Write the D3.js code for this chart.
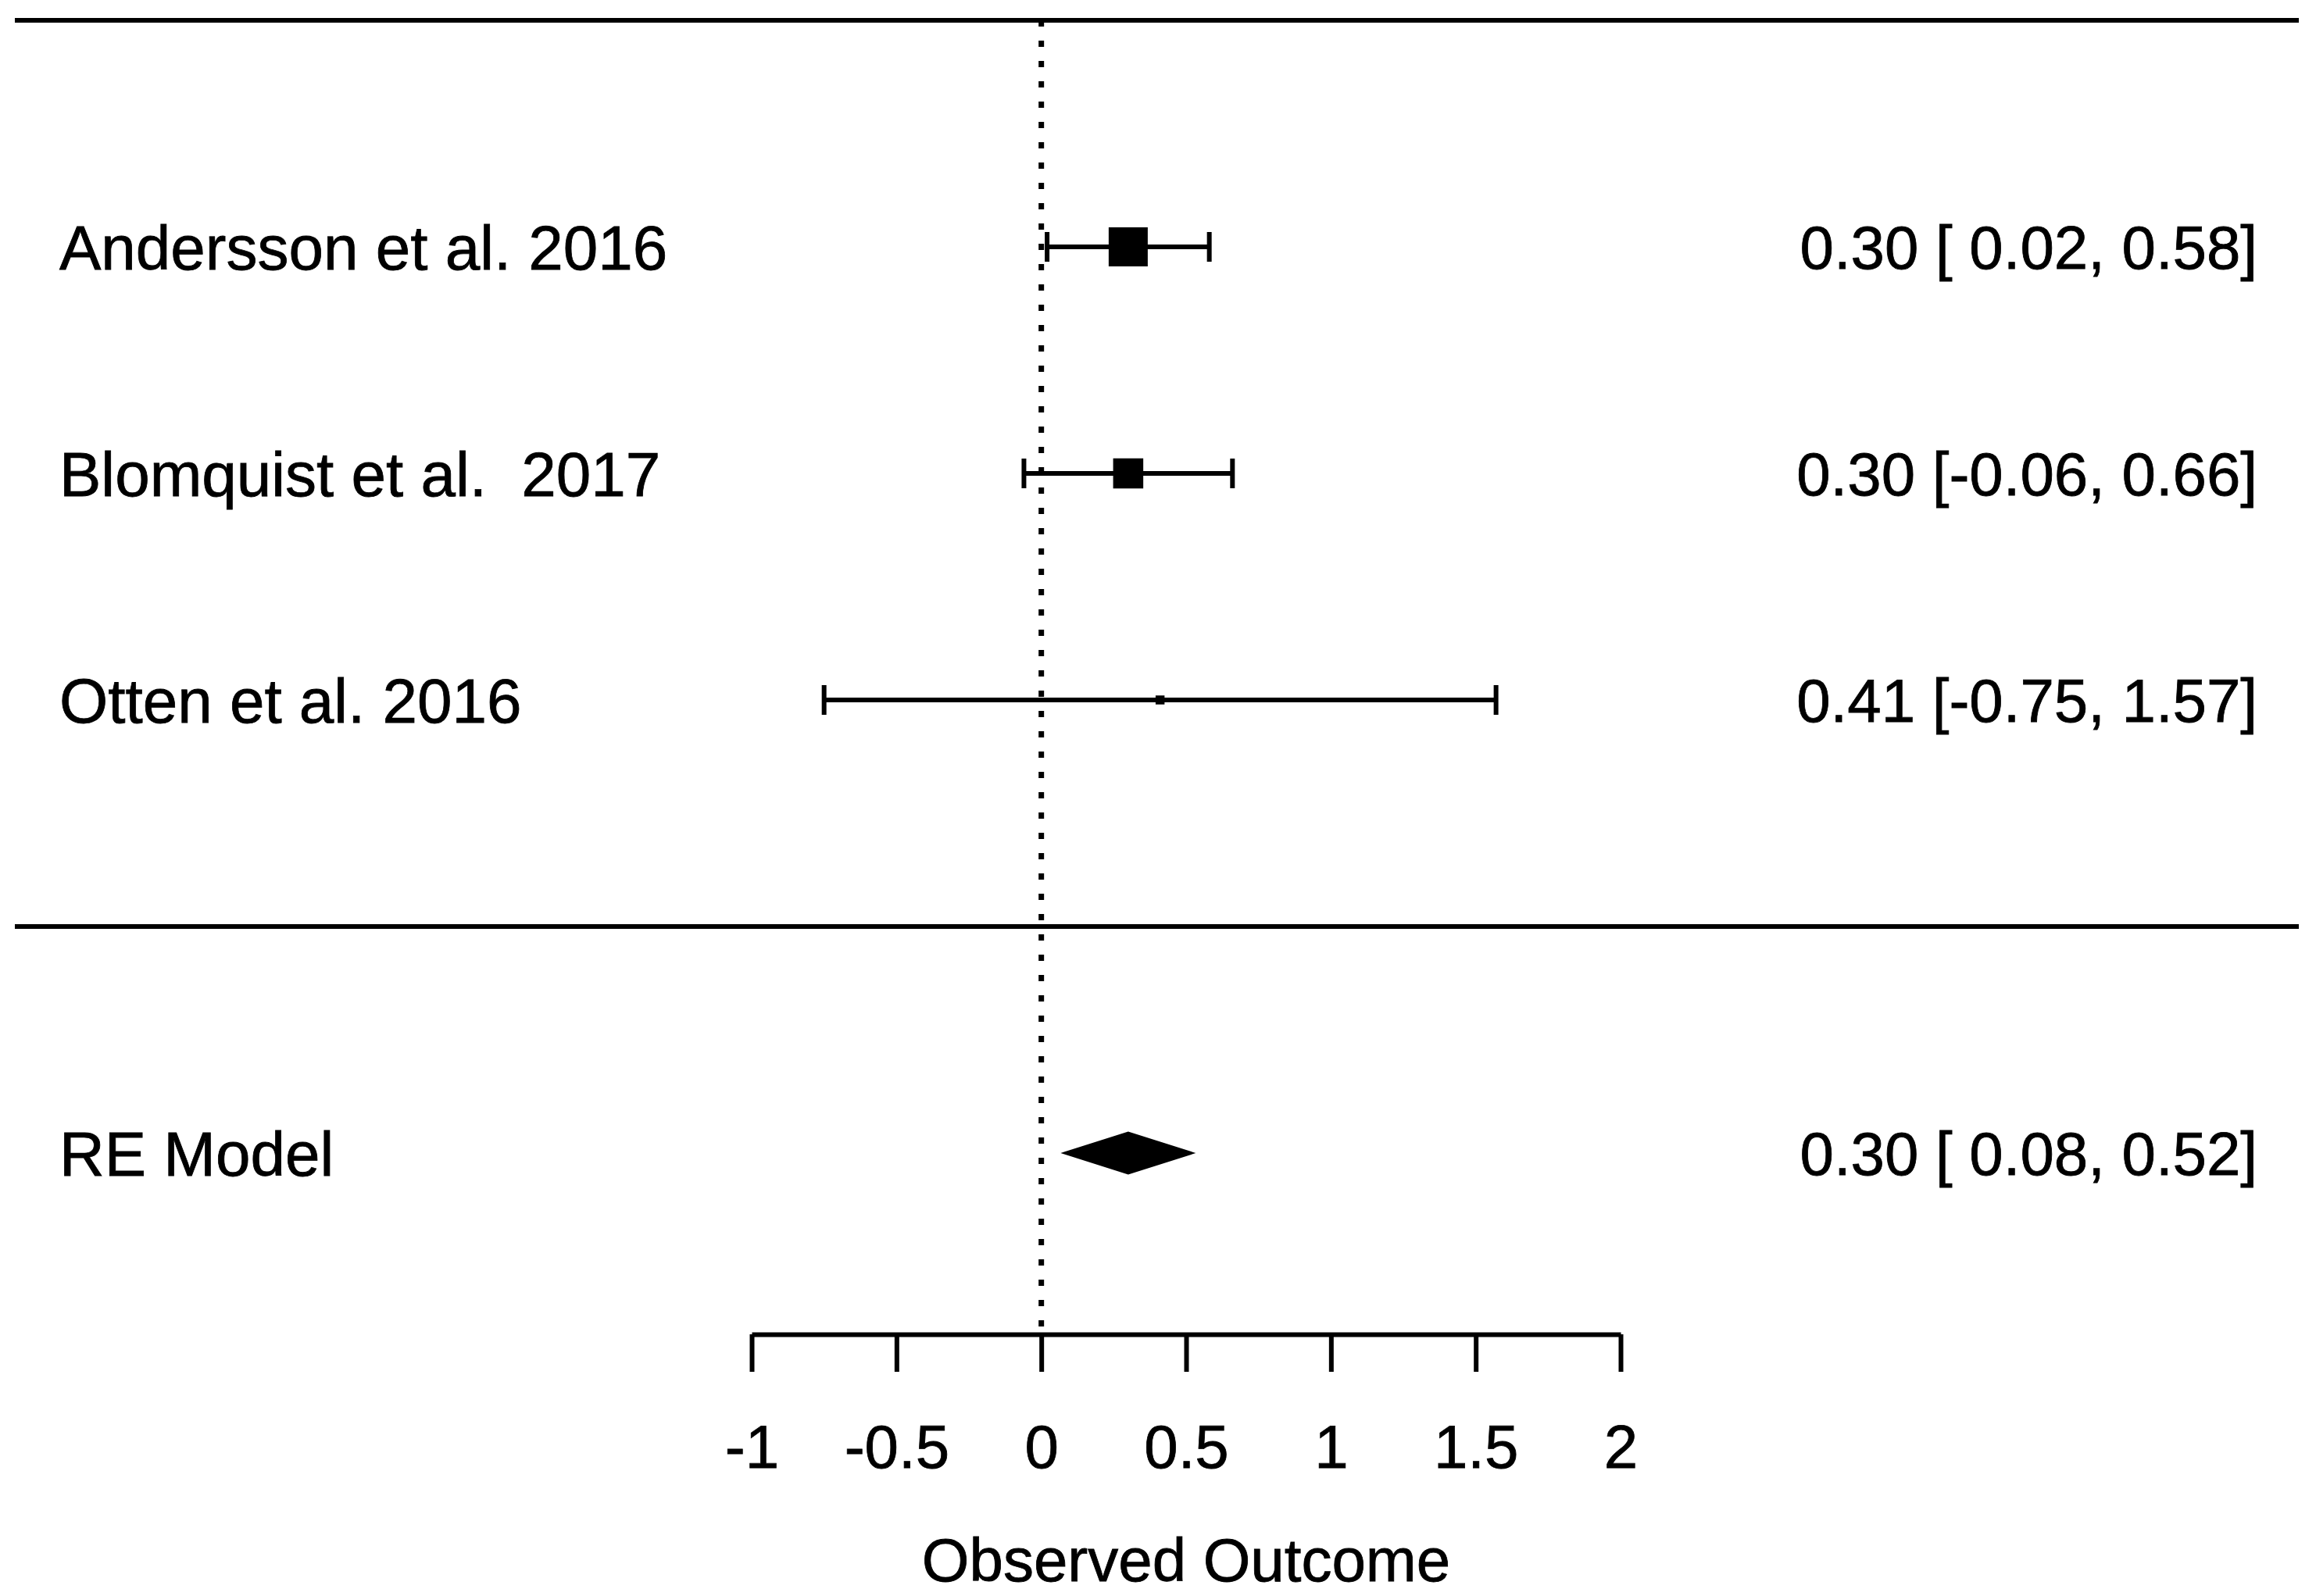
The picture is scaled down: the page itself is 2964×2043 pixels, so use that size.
<!DOCTYPE html>
<html>
<head>
<meta charset="utf-8">
<script src="https://cdn.jsdelivr.net/npm/d3@7"></script>
<style>
  body { margin: 0; background: #fff; }
  text { font-family: "Liberation Sans", Arial, sans-serif; fill: #000; stroke: #000; stroke-width: 0.8px; }
</style>
</head>
<body>
<div id="forest"></div>
<script>
// study data
const studies = ["Andersson et al. 2016", "Blomquist et al.  2017", "Otten et al. 2016"];
const estimates = [0.30, 0.30, 0.41];
const lower = [0.02, -0.06, -0.75];
const upper = [0.58, 0.66, 1.57];
const weights = [60.7, 36.1, 3.2];   // % weight, drives the square size

// pooled random-effects model
const modelLabel = "RE Model";
const modelEst = 0.30, modelLower = 0.08, modelUpper = 0.52;

// axis
const tickValues = [-1, -0.5, 0, 0.5, 1, 1.5, 2];
const tickLabels = ["-1", "-0.5", "0", "0.5", "1", "1.5", "2"];
const xTitle = "Observed Outcome";

const width = 2964, height = 2043;
const fontSize = 78;
const labelSize = 80;
const lw = 6;

const svg = d3.select("#forest")
    .append("svg")
    .attr("width", width)
    .attr("height", height)
    .style("background", "#fff");

// k rows on top, line at 0, model at -1, axis below
const k = studies.length;
const x = d3.scaleLinear().domain([-1, 2]).range([962, 2074]);
const y = d3.scaleLinear().domain([k + 1, -1.8]).range([26, 1708]);
const size = d3.scaleSqrt().domain([0, d3.max(weights)]).range([0, 50]);

// horizontal separators
svg.selectAll("line.sep")
    .data([k + 1, 0])
    .enter()
    .append("line")
    .attr("class", "sep")
    .attr("x1", 19).attr("x2", 2942)
    .attr("y1", d => y(d)).attr("y2", d => y(d))
    .attr("stroke", "#000")
    .attr("stroke-width", lw);

// dotted reference line at 0
svg.append("line")
    .attr("x1", x(0)).attr("x2", x(0))
    .attr("y1", y(k + 1)).attr("y2", y(-1.8))
    .attr("stroke", "#000")
    .attr("stroke-width", 7)
    .attr("stroke-dasharray", "8,18");

// formatting helper, pads columns like metafor does
function fmt(arr) {
    const s = arr.map(v => v.toFixed(2));
    const w = d3.max(s, d => d.length);
    return s.map(d => d.padStart(w, " "));
}
const estTxt = fmt(estimates.concat([modelEst]));
const lbTxt = fmt(lower.concat([modelLower]));
const ubTxt = fmt(upper.concat([modelUpper]));

const rows = studies.map((name, i) => ({
    name: name, row: k - i, est: estimates[i], lb: lower[i], ub: upper[i], w: weights[i],
    txt: estTxt[i] + " [" + lbTxt[i] + ", " + ubTxt[i] + "]"
}));

const g = svg.append("g").attr("id", "studies");
const capH = 19;

// CI lines
g.selectAll("line.ci")
    .data(rows)
    .enter()
    .append("line")
    .attr("class", "ci")
    .attr("x1", d => x(d.lb)).attr("x2", d => x(d.ub))
    .attr("y1", d => y(d.row)).attr("y2", d => y(d.row))
    .attr("stroke", "#000").attr("stroke-width", lw);

// caps at CI ends
rows.forEach(d => {
    [d.lb, d.ub].forEach(v => {
        g.append("line")
            .attr("x1", x(v)).attr("x2", x(v))
            .attr("y1", y(d.row) - capH).attr("y2", y(d.row) + capH)
            .attr("stroke", "#000").attr("stroke-width", lw);
    });
});

// squares sized by weight
g.selectAll("rect.pt")
    .data(rows)
    .enter()
    .append("rect")
    .attr("class", "pt")
    .attr("x", d => x(d.est) - size(d.w) / 2)
    .attr("y", d => y(d.row) - size(d.w) / 2)
    .attr("width", d => size(d.w))
    .attr("height", d => size(d.w))
    .attr("fill", "#000");

// study labels
g.selectAll("text.lab")
    .data(rows)
    .enter()
    .append("text")
    .attr("class", "lab")
    .attr("x", 76)
    .attr("y", d => y(d.row))
    .attr("dy", "0.36em")
    .style("white-space", "pre")
    .style("font-size", labelSize + "px")
    .text(d => d.name);

// estimate text on the right
g.selectAll("text.est")
    .data(rows)
    .enter()
    .append("text")
    .attr("class", "est")
    .attr("x", 2889)
    .attr("y", d => y(d.row))
    .attr("dy", "0.36em")
    .attr("text-anchor", "end")
    .style("white-space", "pre")
    .style("font-size", fontSize + "px")
    .text(d => d.txt);

// summary diamond
const dh = 26;
svg.append("polygon")
    .attr("points", [
        [x(modelLower), y(-1)],
        [x(modelEst), y(-1) - dh],
        [x(modelUpper), y(-1)],
        [x(modelEst), y(-1) + dh]
    ].map(p => p.join(",")).join(" "))
    .attr("fill", "#000")
    .attr("stroke", "#000")
    .attr("stroke-width", 3);

svg.append("text")
    .attr("x", 76).attr("y", y(-1)).attr("dy", "0.36em")
    .style("font-size", labelSize + "px")
    .text(modelLabel);

svg.append("text")
    .attr("x", 2889).attr("y", y(-1)).attr("dy", "0.36em")
    .attr("text-anchor", "end")
    .style("white-space", "pre")
    .style("font-size", fontSize + "px")
    .text(estTxt[k] + " [" + lbTxt[k] + ", " + ubTxt[k] + "]");

// x axis
const axis = svg.append("g")
    .attr("transform", "translate(0," + y(-1.8) + ")")
    .call(d3.axisBottom(x)
        .tickValues(tickValues)
        .tickFormat((d, i) => tickLabels[i])
        .tickSize(48)
        .tickSizeOuter(0)
        .tickPadding(68));
axis.select(".domain").attr("stroke", "#000").attr("stroke-width", lw);
axis.selectAll(".tick line").attr("stroke", "#000").attr("stroke-width", lw);
axis.selectAll(".tick text")
    .attr("fill", "#000")
    .style("font-size", fontSize + "px")
    .style("font-family", "'Liberation Sans', Arial, sans-serif");

svg.append("text")
    .attr("x", (x(-1) + x(2)) / 2)
    .attr("y", 2024)
    .attr("text-anchor", "middle")
    .style("font-size", fontSize + "px")
    .text(xTitle);
</script>
</body>
</html>
